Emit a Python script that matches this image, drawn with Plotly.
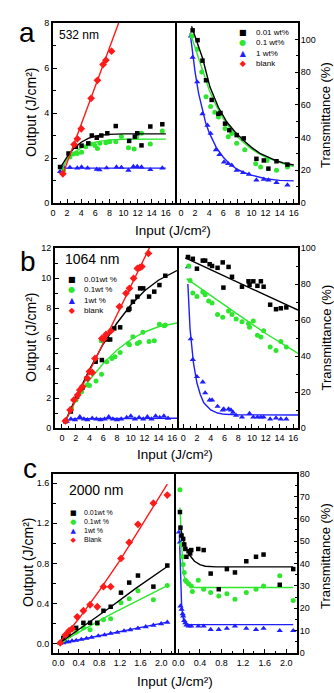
import plotly.graph_objects as go

W, H = 334, 693
FONT = "Liberation Sans, Arial, sans-serif"
BLACK = "#000000"
GREEN = "#2ee62e"
BLUE = "#1e1eff"
RED = "#ff1a1a"

# ---------------- Panel a (532 nm) ----------------
a_out_blank_x = [1.4, 3.0, 3.45, 4.0, 5.4, 6.3, 7.1, 7.5, 8.3]
a_out_blank_y = [1.3, 2.6, 2.85, 3.3, 4.65, 5.45, 6.15, 6.35, 6.75]
a_fit_blank_x = [1.3, 9.6]
a_fit_blank_y = [1.2, 8.25]

a_out_001_x = [1.0, 2.2, 3.25, 4.05, 5.0, 5.5, 6.2, 6.85, 7.7, 8.9, 10.8, 11.6, 11.95, 12.55, 13.8, 15.5]
a_out_001_y = [1.6, 2.2, 2.5, 2.55, 2.65, 3.0, 2.9, 3.0, 3.1, 3.42, 2.76, 2.95, 3.1, 2.56, 3.4, 3.5]
a_fit_001_x = [1.0, 2, 3, 4, 5, 6, 7, 8, 10, 13, 16]
a_fit_001_y = [1.55, 2.05, 2.45, 2.7, 2.87, 2.97, 3.02, 3.05, 3.07, 3.07, 3.07]

a_out_01_x = [1.5, 2.4, 2.9, 3.45, 4.05, 4.65, 5.35, 5.95, 6.3, 6.65, 7.5, 8.05, 8.9, 9.7, 10.7, 11.5, 11.85, 12.55, 13.8, 15.5]
a_out_01_y = [1.45, 2.05, 2.18, 2.2, 2.25, 2.5, 2.62, 2.55, 2.42, 2.65, 2.68, 2.72, 2.72, 2.95, 2.45, 2.4, 2.92, 3.1, 2.62, 3.2]
a_fit_01_x = [1.3, 2, 3, 4, 5, 6, 7, 8, 10, 13, 16]
a_fit_01_y = [1.5, 1.95, 2.25, 2.45, 2.6, 2.7, 2.76, 2.8, 2.83, 2.84, 2.84]

a_out_1_x = [1.0, 1.5, 2.4, 3.45, 4.05, 4.9, 6.2, 6.6, 7.6, 9.0, 9.7, 10.7, 11.4, 11.95, 12.55, 13.8, 15.5]
a_out_1_y = [1.4, 1.6, 1.58, 1.55, 1.6, 1.55, 1.5, 1.47, 1.56, 1.6, 1.58, 1.45, 1.62, 1.62, 1.6, 1.48, 1.55]
a_fit_1_x = [1.0, 16]
a_fit_1_y = [1.55, 1.55]

a_tr_001_x = [1.65, 2.35, 3.05, 3.55, 4.35, 5.3, 5.6, 6.25, 6.85, 7.9, 8.9, 10.7, 11.75, 12.4, 13.55, 15.1]
a_tr_001_y = [105.5, 99.5, 87, 75, 63, 54.5, 55, 48.5, 44.5, 41.5, 39.5, 27, 26, 21, 25.5, 23.5]
a_trfit_001_x = [1.5, 3.1, 4.1, 5.3, 6.5, 7.65, 8.8, 10, 11.2, 12.4, 13.55, 14.5, 15.4, 16.0]
a_trfit_001_y = [108, 88, 71, 58.5, 49.5, 43.5, 38.5, 34, 30.3, 27.8, 25.8, 24.5, 23.6, 23.2]

a_tr_01_x = [1.55, 2.3, 2.95, 3.55, 4.2, 4.8, 5.3, 6.25, 6.7, 7.2, 7.9, 9.05, 10.6, 11.3, 12.2, 13.55, 15.1]
a_tr_01_y = [102, 94, 80, 65, 59, 55.5, 52.5, 45.5, 40.5, 42.5, 36.5, 32.5, 24, 22, 26, 20, 22]
a_trfit_01_x = [1.3, 2, 3, 4, 5, 6, 7, 8, 9, 10, 11, 12, 13, 14, 15, 16]
a_trfit_01_y = [104, 95, 81, 69, 59.5, 51.5, 45.5, 40.5, 36.5, 33, 30.3, 28, 26.3, 24.8, 23.3, 22.3]

a_tr_1_x = [1.4, 1.65, 2.3, 3.05, 3.75, 4.2, 4.95, 5.45, 6.1, 6.7, 7.2, 7.9, 8.8, 9.65, 10.7, 11.75, 12.4, 13.55, 15.1]
a_tr_1_y = [102, 89, 74, 54.5, 47.5, 42.5, 32.5, 29.5, 25, 24, 23, 20, 18.5, 17.5, 14, 14.5, 14, 12.5, 11]
a_trfit_1_x = [1.3, 1.6, 2, 2.5, 3, 3.5, 4, 5, 6, 7, 8, 9, 10, 12, 14, 16]
a_trfit_1_y = [104, 92, 80, 67, 57, 49, 43, 34, 28, 23.5, 20.5, 18.5, 17, 14.8, 13.8, 13.5]

# ---------------- Panel b (1064 nm) ----------------
b_out_blank_x = [0.5, 1.2, 1.75, 2.3, 2.6, 3.0, 3.7, 4.0, 4.4, 4.8, 5.8, 6.1, 6.4, 7.1, 8.35, 9.3, 9.8, 10.4, 10.95, 11.3, 11.6, 12.55]
b_out_blank_y = [0.47, 1.2, 1.87, 2.2, 2.53, 2.76, 3.31, 3.76, 3.7, 4.64, 5.97, 5.95, 6.24, 6.47, 8.09, 8.98, 9.31, 9.98, 10.64, 10.7, 10.76, 11.64]
b_fit_blank_x = [0.5, 13.0]
b_fit_blank_y = [0.45, 12.3]

b_out_001_x = [0.5, 1.3, 2.2, 3.0, 3.6, 4.9, 5.8, 6.6, 7.0, 7.6, 8.45, 9.65, 9.8, 10.3, 10.95, 11.35, 11.8, 12.65, 13.4, 14.15, 15.0]
b_out_001_y = [0.45, 1.1, 2.1, 2.7, 3.3, 4.42, 4.53, 5.9, 5.9, 6.64, 6.71, 7.87, 7.95, 8.42, 8.76, 9.31, 9.31, 8.76, 9.09, 9.53, 10.15]
b_fit_001_x = [0.5, 2, 4, 6, 8, 10, 12, 14, 16.7]
b_fit_001_y = [0.45, 2.0, 3.9, 5.6, 7.0, 8.2, 9.15, 9.85, 10.5]

b_out_01_x = [0.6, 1.4, 2.05, 2.85, 3.7, 4.0, 4.95, 5.75, 5.7, 6.5, 7.25, 7.7, 8.45, 9.65, 9.8, 10.3, 10.95, 11.25, 11.75, 12.65, 13.4, 14.15, 14.85, 15.0]
b_out_01_y = [0.5, 1.3, 1.87, 2.42, 2.87, 2.84, 3.13, 3.58, 5.82, 4.42, 4.64, 4.75, 5.04, 5.64, 5.55, 6.09, 5.64, 5.71, 6.38, 5.76, 5.82, 6.91, 6.82, 6.87]
b_fit_01_x = [0.5, 2, 4, 6, 8, 10, 12, 14, 16.7]
b_fit_01_y = [0.45, 1.8, 3.2, 4.3, 5.2, 5.9, 6.4, 6.75, 7.0]

b_out_1_x = [0.7, 1.3, 1.9, 2.6, 3.2, 3.7, 4.4, 5.0, 5.6, 6.2, 6.8, 7.4, 8.0, 8.6, 9.4, 10.0, 10.6, 11.2, 11.8, 12.4, 13.0, 13.6, 14.2, 14.8, 15.4]
b_out_1_y = [0.45, 0.6, 0.55, 0.75, 0.6, 0.55, 0.65, 0.6, 0.55, 0.6, 0.75, 0.6, 0.55, 0.6, 0.7, 0.8, 0.6, 0.7, 0.6, 0.75, 0.6, 0.8, 0.7, 0.8, 0.65]
b_fit_1_x = [0.5, 1.0, 2, 16.7]
b_fit_1_y = [0.4, 0.55, 0.62, 0.65]

b_tr_001_x = [0.7, 1.4, 2.0, 2.85, 3.2, 3.85, 4.2, 5.0, 5.75, 5.85, 6.6, 7.1, 8.55, 9.5, 9.65, 10.2, 10.8, 11.3, 11.7, 12.65, 13.5, 14.2, 15.0]
b_tr_001_y = [95, 94, 88.5, 93, 93, 91, 90, 89, 92, 78, 89.5, 84, 78.5, 81.5, 79.5, 81.5, 79, 81.5, 78.5, 68.5, 66, 66.5, 67]
b_trfit_001_x = [0.3, 16.7]
b_trfit_001_y = [94.5, 65.5]

b_tr_01_x = [0.8, 1.0, 1.4, 2.0, 2.85, 3.2, 3.7, 4.2, 5.0, 5.75, 6.6, 7.1, 7.7, 8.55, 9.5, 9.65, 10.2, 10.8, 11.3, 11.7, 12.65, 13.5, 14.2, 15.0]
b_tr_01_y = [90, 82, 75, 73, 75.5, 74, 70.5, 69.5, 63, 61.5, 65, 63, 60.5, 59, 58, 56, 59.5, 51.5, 50.5, 54, 45, 43, 48, 45]
b_trfit_01_x = [0.5, 4, 8, 12, 16.7]
b_trfit_01_y = [83, 73.5, 63, 52.5, 41.5]

b_tr_1_x = [0.7, 1.1, 1.4, 2.0, 2.85, 3.2, 3.85, 4.2, 5.0, 5.75, 5.9, 6.6, 6.95, 7.25, 7.7, 8.55, 9.65, 10.2, 10.8, 11.3, 11.7, 12.65, 13.5, 14.2, 15.0]
b_tr_1_y = [89.5, 49.5, 38, 28.5, 25.5, 19.5, 15.5, 15.5, 12, 10, 10.5, 10.5, 10, 8.7, 7, 6, 8, 6, 6, 6, 6, 5, 5.5, 5, 5]
b_trfit_1_x = [0.68, 1.0, 1.5, 2.0, 2.5, 3.0, 4.0, 5.0, 6.0, 8.0, 16.7]
b_trfit_1_y = [80, 55, 36, 25, 18.5, 14, 10, 8.3, 7.6, 7.3, 7.2]

# ---------------- Panel c (2000 nm) ----------------
c_out_blank_x = [0.04, 0.14, 0.21, 0.27, 0.37, 0.49, 0.62, 0.76, 0.88, 1.02, 1.22, 1.38, 1.55, 1.85, 2.12]
c_out_blank_y = [0.01, 0.09, 0.13, 0.15, 0.27, 0.33, 0.39, 0.37, 0.57, 0.57, 0.85, 1.01, 1.19, 1.4, 1.48]
c_fit_blank_x = [0, 0.4, 0.8, 1.2, 1.6, 2.0, 2.12]
c_fit_blank_y = [0, 0.25, 0.53, 0.83, 1.16, 1.5, 1.59]

c_out_001_x = [0.1, 0.2, 0.35, 0.49, 0.62, 0.76, 0.88, 1.02, 1.22, 1.38, 1.55, 1.85, 2.12]
c_out_001_y = [0.06, 0.1, 0.16, 0.21, 0.21, 0.21, 0.33, 0.37, 0.51, 0.61, 0.68, 0.57, 0.78]
c_fit_001_x = [0, 0.5, 1.0, 1.5, 2.12]
c_fit_001_y = [0, 0.18, 0.36, 0.55, 0.77]

c_out_01_x = [0.1, 0.2, 0.35, 0.49, 0.62, 0.76, 0.88, 1.02, 1.22, 1.38, 1.55, 1.85, 2.12]
c_out_01_y = [0.04, 0.08, 0.12, 0.16, 0.14, 0.2, 0.24, 0.25, 0.41, 0.45, 0.53, 0.44, 0.58]
c_fit_01_x = [0, 1.0, 2.12]
c_fit_01_y = [0, 0.29, 0.58]

c_out_1_x = [0.04, 0.1, 0.15, 0.2, 0.27, 0.35, 0.45, 0.55, 0.65, 0.78, 0.9, 1.02, 1.15, 1.28, 1.4, 1.55, 1.7, 1.85, 2.0, 2.12]
c_out_1_y = [0.005, 0.01, 0.02, 0.02, 0.03, 0.035, 0.045, 0.055, 0.065, 0.08, 0.09, 0.105, 0.115, 0.13, 0.14, 0.155, 0.17, 0.185, 0.2, 0.215]
c_fit_1_x = [0, 2.12]
c_fit_1_y = [0, 0.217]

c_tr_001_x = [0.03, 0.04, 0.06, 0.09, 0.11, 0.13, 0.15, 0.19, 0.22, 0.24, 0.37, 0.47, 0.6, 0.75, 0.9, 1.05, 1.26, 1.44, 1.58, 1.88, 2.13]
c_tr_001_y = [63, 56, 52.5, 51, 48.5, 46.5, 43, 45.5, 44.5, 46, 46.5, 46, 35.5, 28.5, 37.5, 36, 41, 43, 44, 30.5, 37.5]
c_trfit_001_x = [0.03, 0.05, 0.1, 0.15, 0.2, 0.3, 0.4, 0.5, 0.7, 1.0, 2.13]
c_trfit_001_y = [57, 55, 50, 46.5, 44, 41, 39.5, 38.8, 38.5, 38.5, 38.5]

c_tr_01_x = [0.03, 0.06, 0.08, 0.09, 0.11, 0.13, 0.15, 0.19, 0.24, 0.26, 0.37, 0.47, 0.6, 0.75, 0.9, 1.05, 1.26, 1.44, 1.58, 1.88, 2.13]
c_tr_01_y = [73, 48.5, 43, 39.5, 36, 32.5, 32, 31, 30, 27.5, 32.5, 28.5, 27, 25.5, 26.5, 24, 27, 28.5, 30, 34.5, 23.5]
c_trfit_01_x = [0.03, 0.05, 0.08, 0.1, 0.15, 0.2, 0.3, 2.13]
c_trfit_01_y = [65, 52, 40, 35, 31, 30, 29.3, 29.3]

c_tr_1_x = [0.01, 0.03, 0.04, 0.06, 0.08, 0.09, 0.11, 0.13, 0.15, 0.19, 0.24, 0.37, 0.47, 0.6, 0.75, 0.9, 1.05, 1.26, 1.44, 1.58, 1.88, 2.13]
c_tr_1_y = [54, 49.5, 21, 19.5, 17.5, 16.5, 14.5, 13.5, 12.5, 12, 12, 12, 12, 10.5, 10.5, 11, 12, 11, 10.5, 11, 10, 10]
c_trfit_1_x = [0.02, 0.04, 0.06, 0.08, 0.1, 0.15, 0.2, 2.13]
c_trfit_1_y = [53, 35, 22, 17, 14.5, 13, 12.7, 12.7]

# legend / label texts
legend_a = ["0.01 wt%", "0.1 wt%", "1 wt%", "blank"]
legend_b = ["0.01wt %", "0.1wt %", "1wt %", "blank"]
legend_c = ["0.01wt %", "0.1wt %", "1wt %", "Blank"]
wavelengths = ["532 nm", "1064 nm", "2000 nm"]
panel_letters = ["a", "b", "c"]

# ---------------- build figure ----------------
fig = go.Figure()

STY = {
    "001": dict(color=BLACK, symbol="square", size=4.5),
    "01": dict(color=GREEN, symbol="circle", size=5),
    "1": dict(color=BLUE, symbol="triangle-up", size=5.5),
    "blank": dict(color=RED, symbol="diamond", size=6),
}


def add_series(xs, ys, fx_, fy_, key, xa, ya):
    st = STY[key]
    fig.add_trace(go.Scatter(x=fx_, y=fy_, mode="lines", line=dict(color=st["color"], width=1.4),
                             xaxis=xa, yaxis=ya, showlegend=False, hoverinfo="skip"))
    fig.add_trace(go.Scatter(x=xs, y=ys, mode="markers",
                             marker=dict(color=st["color"], symbol=st["symbol"], size=st["size"], line=dict(width=0)),
                             xaxis=xa, yaxis=ya, showlegend=False, cliponaxis=True))


# panel a
add_series(a_out_1_x, a_out_1_y, a_fit_1_x, a_fit_1_y, "1", "x", "y")
add_series(a_out_01_x, a_out_01_y, a_fit_01_x, a_fit_01_y, "01", "x", "y")
add_series(a_out_001_x, a_out_001_y, a_fit_001_x, a_fit_001_y, "001", "x", "y")
add_series(a_out_blank_x, a_out_blank_y, a_fit_blank_x, a_fit_blank_y, "blank", "x", "y")
add_series(a_tr_1_x, a_tr_1_y, a_trfit_1_x, a_trfit_1_y, "1", "x2", "y2")
add_series(a_tr_01_x, a_tr_01_y, a_trfit_01_x, a_trfit_01_y, "01", "x2", "y2")
add_series(a_tr_001_x, a_tr_001_y, a_trfit_001_x, a_trfit_001_y, "001", "x2", "y2")
# panel b
add_series(b_out_1_x, b_out_1_y, b_fit_1_x, b_fit_1_y, "1", "x3", "y3")
add_series(b_out_01_x, b_out_01_y, b_fit_01_x, b_fit_01_y, "01", "x3", "y3")
add_series(b_out_001_x, b_out_001_y, b_fit_001_x, b_fit_001_y, "001", "x3", "y3")
add_series(b_out_blank_x, b_out_blank_y, b_fit_blank_x, b_fit_blank_y, "blank", "x3", "y3")
add_series(b_tr_1_x, b_tr_1_y, b_trfit_1_x, b_trfit_1_y, "1", "x4", "y4")
add_series(b_tr_01_x, b_tr_01_y, b_trfit_01_x, b_trfit_01_y, "01", "x4", "y4")
add_series(b_tr_001_x, b_tr_001_y, b_trfit_001_x, b_trfit_001_y, "001", "x4", "y4")
# panel c
add_series(c_out_1_x, c_out_1_y, c_fit_1_x, c_fit_1_y, "1", "x5", "y5")
add_series(c_out_01_x, c_out_01_y, c_fit_01_x, c_fit_01_y, "01", "x5", "y5")
add_series(c_out_001_x, c_out_001_y, c_fit_001_x, c_fit_001_y, "001", "x5", "y5")
add_series(c_out_blank_x, c_out_blank_y, c_fit_blank_x, c_fit_blank_y, "blank", "x5", "y5")
add_series(c_tr_1_x, c_tr_1_y, c_trfit_1_x, c_trfit_1_y, "1", "x6", "y6")
add_series(c_tr_01_x, c_tr_01_y, c_trfit_01_x, c_trfit_01_y, "01", "x6", "y6")
add_series(c_tr_001_x, c_tr_001_y, c_trfit_001_x, c_trfit_001_y, "001", "x6", "y6")


def fx(p):
    return p / W


def fy(p):
    return 1 - p / H


TICKFONT = dict(size=9, color="black", family=FONT)


def xaxis(d0, d1, rng, dtick, minor, anchor, fmt=None):
    return dict(domain=[fx(d0), fx(d1)], range=rng, anchor=anchor, tick0=0, dtick=dtick,
                ticks="inside", ticklen=4, tickwidth=1.3, tickcolor="black",
                minor=dict(tick0=0, dtick=minor, ticks="inside", ticklen=2.5, tickwidth=1, tickcolor="black"),
                showline=True, linewidth=2, linecolor="black", mirror=True, automargin=False,
                showgrid=False, zeroline=False, tickformat=fmt, tickfont=TICKFONT)


def yaxis(top, bot, rng, dtick, minor, anchor, side="left", fmt=None):
    left = side == "left"
    return dict(domain=[fy(bot), fy(top)], range=rng, anchor=anchor, side=side, tick0=0, dtick=dtick,
                ticks="inside", ticklen=4 if left else 3, tickwidth=1.3, tickcolor="black",
                minor=dict(tick0=0, dtick=minor, ticks="inside", ticklen=2.5 if left else 2,
                           tickwidth=1, tickcolor="black"),
                showline=True, linewidth=2, linecolor="black", mirror=True if left else False,
                ticklabelstandoff=0 if left else -1, automargin=False,
                showgrid=False, zeroline=False, tickformat=fmt, tickfont=TICKFONT)


layout = dict(
    width=W, height=H, margin=dict(l=0, r=0, t=0, b=0),
    paper_bgcolor="white", plot_bgcolor="white", showlegend=False,
    font=dict(family=FONT, color="black"),
    xaxis=xaxis(53, 175, [0, 17.3], 2, 1, "y"),
    yaxis=yaxis(23, 203, [0, 8], 2, 1, "x"),
    xaxis2=xaxis(175, 298, [-0.85, 16.6], 2, 1, "y2"),
    yaxis2=yaxis(23, 203, [0, 110], 20, 10, "x2", side="right"),
    xaxis3=xaxis(55, 177, [-1.0, 16.7], 2, 1, "y3"),
    yaxis3=yaxis(248, 428, [0, 12], 2, 1, "x3"),
    xaxis4=xaxis(177, 298, [-0.9, 16.7], 2, 1, "y4"),
    yaxis4=yaxis(248, 428, [0, 100], 20, 10, "x4", side="right"),
    xaxis5=xaxis(53, 174, [-0.1, 2.25], 0.4, 0.2, "y5", fmt=".1f"),
    yaxis5=yaxis(474, 653, [-0.09, 1.69], 0.4, 0.2, "x5", fmt=".1f"),
    xaxis6=xaxis(174, 297, [-0.08, 2.2], 0.4, 0.2, "y6", fmt=".1f"),
    yaxis6=yaxis(474, 653, [0, 80], 10, 5, "x6", side="right"),
)

anns = []


def ann(text, x, y, size, xanchor="center", yanchor="middle", **kw):
    d = dict(text=text, x=fx(x), y=fy(y), xref="paper", yref="paper", showarrow=False,
             xanchor=xanchor, yanchor=yanchor,
             font=dict(size=size, color="black", family=FONT))
    d.update(kw)
    anns.append(d)


# panel letters
ann(panel_letters[0], 27, 32, 28)
ann(panel_letters[1], 28, 262, 28)
ann(panel_letters[2], 30, 468, 28)
# wavelength labels
ann(wavelengths[0], 57, 34.5, 12, xanchor="left")
ann(wavelengths[1], 63, 259, 14, xanchor="left")
ann(wavelengths[2], 67, 489.5, 14, xanchor="left")
# x titles
xt = "Input (J/cm²)"
ann(xt, 173, 231, 13.5)
ann(xt, 175, 454, 13.5)
ann(xt, 175, 681, 13.5)
# y titles
yt = "Output (J/cm²)"
tt = "Transmittance (%)"
ann(yt, 31, 113, 14, textangle=-90)
ann(yt, 31, 338, 14, textangle=-90)
ann(yt, 28, 563, 14, textangle=-90)
ann(tt, 325, 115, 13, textangle=-90)
ann(tt, 325.5, 338, 13, textangle=-90)
ann(tt, 325, 556, 13, textangle=-90)

# legends (symbol column + text column)
glyphs = [("■", BLACK), ("●", GREEN), ("▲", BLUE), ("◆", RED)]


def legend(labels, gx, tx, top, size):
    gtxt = "<br>".join(f"<span style='color:{c}'>{g}</span>" for g, c in glyphs)
    anns.append(dict(text=gtxt, x=fx(gx), y=fy(top), xref="paper", yref="paper", showarrow=False,
                     xanchor="center", yanchor="top", align="center",
                     font=dict(size=size, family="DejaVu Sans", color="black")))
    anns.append(dict(text="<br>".join(labels), x=fx(tx), y=fy(top), xref="paper", yref="paper", showarrow=False,
                     xanchor="left", yanchor="top", align="left",
                     font=dict(size=size, family=FONT, color="black")))


legend(legend_a, 243, 254, 26, 8)
legend(legend_b, 72, 82, 272.5, 8)
legend(legend_c, 73, 82, 507, 7)

layout["annotations"] = anns
fig.update_layout(**layout)
fig.write_html("out.html")
